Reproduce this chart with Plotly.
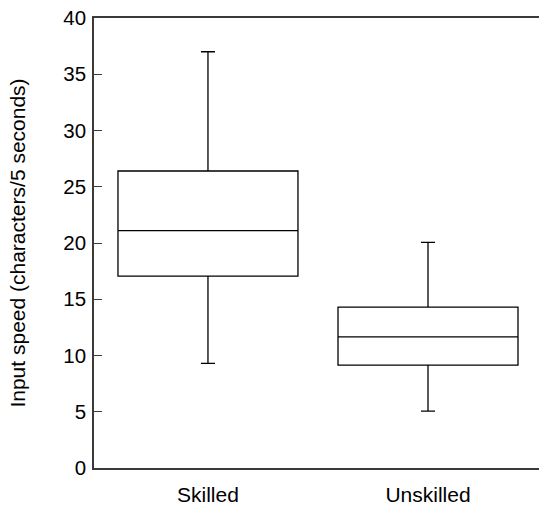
import plotly.graph_objects as go

# Five-number summaries of input speed per group
groups = ["Skilled", "Unskilled"]
q1 = [17.05, 9.15]
median = [21.1, 11.65]
q3 = [26.4, 14.3]
lower_whisker = [9.3, 5.05]
upper_whisker = [37.0, 20.05]

y_ticks = [0, 5, 10, 15, 20, 25, 30, 35, 40]

FONT = "Liberation Sans, Arial, Helvetica, sans-serif"
AXIS_COLOR = "#3a3a3a"

fig = go.Figure()
fig.add_trace(go.Box(
    x=groups,
    q1=q1,
    median=median,
    q3=q3,
    lowerfence=lower_whisker,
    upperfence=upper_whisker,
    width=0.818,
    whiskerwidth=0.078,
    fillcolor="white",
    line=dict(color="black", width=1.3),
    boxpoints=False,
    hoverinfo="skip",
    showlegend=False,
))

fig.update_layout(
    width=539,
    height=506,
    margin=dict(l=94, r=0, t=18, b=38),
    paper_bgcolor="white",
    plot_bgcolor="white",
    font=dict(family=FONT, size=20, color="black"),
    xaxis=dict(
        type="category",
        range=[-0.518, 1.5045],
        showline=True,
        linecolor=AXIS_COLOR,
        linewidth=1.5,
        mirror=True,
        ticks="",
        showgrid=False,
        zeroline=False,
        tickfont=dict(size=21),
        ticklabelstandoff=7,
    ),
    yaxis=dict(
        range=[0, 40],
        tickvals=y_ticks,
        ticktext=[str(v) for v in y_ticks],
        ticks="inside",
        ticklen=8,
        tickwidth=1.2,
        tickcolor=AXIS_COLOR,
        showline=True,
        linecolor=AXIS_COLOR,
        linewidth=1.5,
        showgrid=False,
        zeroline=False,
        tickfont=dict(size=20.5),
        ticklabelstandoff=2,
        title=dict(text="Input speed (characters/5 seconds)",
                   font=dict(size=21), standoff=32),
    ),
    yaxis2=dict(
        overlaying="y",
        side="right",
        range=[0, 40],
        tickvals=y_ticks,
        ticks="inside",
        ticklen=4,
        tickwidth=1.2,
        tickcolor=AXIS_COLOR,
        showticklabels=False,
        showline=False,
        showgrid=False,
        zeroline=False,
    ),
)

fig.write_html("out.html")
